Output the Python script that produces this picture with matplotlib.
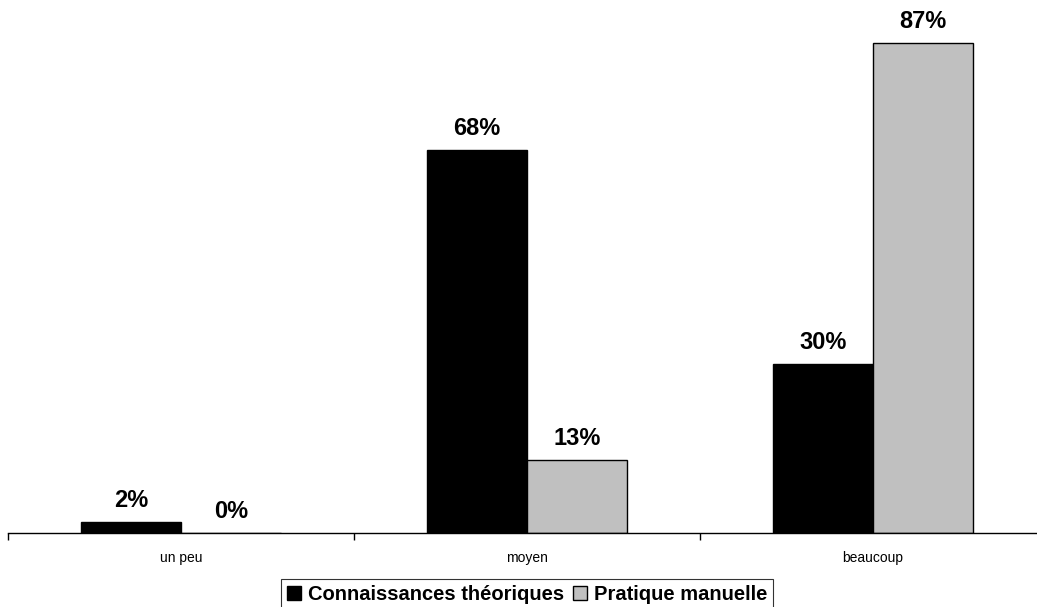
import numpy as np
import matplotlib.pyplot as plt
from matplotlib.patches import Patch

plt.rcParams['font.family'] = ['Liberation Sans', 'DejaVu Sans']

categories = ['un peu', 'moyen', 'beaucoup']
theorie = [2, 68, 30]
pratique = [0, 13, 87]
series_names = ['Connaissances théoriques', 'Pratique manuelle']

W, H = 1037, 607
fig = plt.figure(figsize=(W / 100, H / 100), dpi=100)
# axes run a little past the right edge of the figure
ax = fig.add_axes([8 / W, 74 / H, 1038 / W, 507 / H])

x = np.arange(len(categories))
bw = 0.289
b1 = ax.bar(x - bw / 2, theorie, bw, color='black', edgecolor='black', linewidth=1)
b2 = ax.bar(x + bw / 2, pratique, bw, color='#c0c0c0', edgecolor='black', linewidth=1)

for bars, vals in ((b1, theorie), (b2, pratique)):
    for r, v in zip(bars, vals):
        ax.annotate(f'{v}%', (r.get_x() + r.get_width() / 2, v),
                    xytext=(0, 7), textcoords='offset points',
                    ha='center', va='bottom', fontsize=17, fontweight='bold')

ax.set_xlim(-0.5, 2.5)
ax.set_ylim(0, 90)
for s in ('top', 'right', 'left'):
    ax.spines[s].set_visible(False)
ax.spines['bottom'].set_linewidth(1)
ax.set_yticks([])

ax.set_xticks(np.arange(-0.5, 3, 1))
ax.set_xticklabels([])
ax.tick_params(axis='x', which='major', length=5, width=1, direction='out')
ax.set_xticks(x, minor=True)
ax.set_xticklabels(categories, minor=True, fontsize=10)
ax.tick_params(axis='x', which='minor', length=0, pad=13)

handles = [Patch(facecolor='black', edgecolor='black'),
           Patch(facecolor='#c0c0c0', edgecolor='black')]
leg = fig.legend(handles, series_names, loc='upper center',
                 bbox_to_anchor=(527 / W, 1 - 579 / H), ncol=2,
                 frameon=True, fancybox=False, edgecolor='black',
                 handlelength=0.7, handleheight=0.7, handletextpad=0.35,
                 columnspacing=0.45, borderpad=0.3, borderaxespad=0,
                 prop={'weight': 'bold', 'size': 14.5})
leg.get_frame().set_linewidth(0.8)

fig.savefig('out.png', dpi=100)
